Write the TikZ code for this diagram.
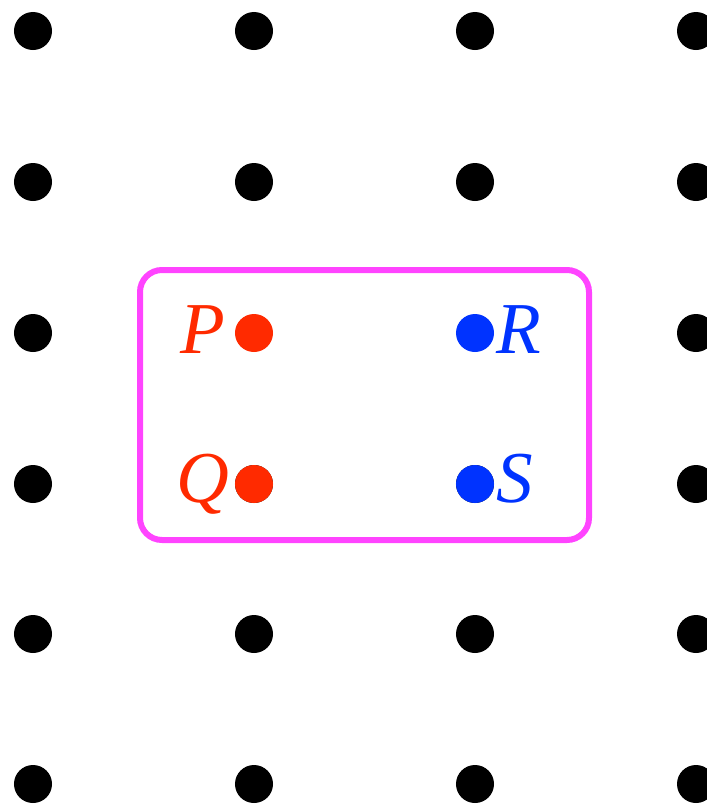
\documentclass[tikz,border=0pt]{standalone}
\usepackage{fontspec}
\setmainfont{Liberation Serif}
\definecolor{ptred}{RGB}{255, 42, 0}
\definecolor{ptblue}{RGB}{0, 51, 255}
\definecolor{framepink}{RGB}{255, 68, 255}
\usetikzlibrary{positioning}

\tikzset{
  dot/.style={circle, fill=#1, inner sep=0pt, minimum size=0.95cm},
  dot/.default=black,
  ptlabel/.style={text=#1, inner sep=0pt, font=\fontsize{52}{56}\selectfont\itshape}
}

\begin{document}
\begin{tikzpicture}[x=0.025cm, y=-0.025cm]
  \useasboundingbox (0,0) rectangle (706,804);

  % Lattice
  \foreach \c/\x in {0/33, 1/254, 2/475, 3/696} {
    \foreach \r/\y in {0/31, 1/182, 3/484, 4/634, 5/784} {
      \node[dot] (g-\c-\r) at (\x,\y) {};
    }
  }
  \node[dot] (g-0-2) at (33,333) {};
  \node[dot] (g-3-2) at (696,333) {};

  % Frame
  \draw[framepink, line width=0.15cm, rounded corners=0.55cm] (140,270) rectangle (589,540);

  % Red points
  \node[dot=ptred] (P) at (254,333) {};
  \node[dot=ptred] (Q) at (254,484) {};
  \node[ptlabel=ptred, anchor=base east] (labP) at (225,353) {P};
  \node[ptlabel=ptred, anchor=base east] (labQ) at (230,502) {Q};

  % Blue points
  \node[dot=ptblue] (R) at (475,333) {};
  \node[dot=ptblue] (S) at (475,484) {};
  \node[ptlabel=ptblue, anchor=base west] (labR) at (496,353) {R};
  \node[ptlabel=ptblue, anchor=base west] (labS) at (496,502) {S};
\end{tikzpicture}
\end{document}
